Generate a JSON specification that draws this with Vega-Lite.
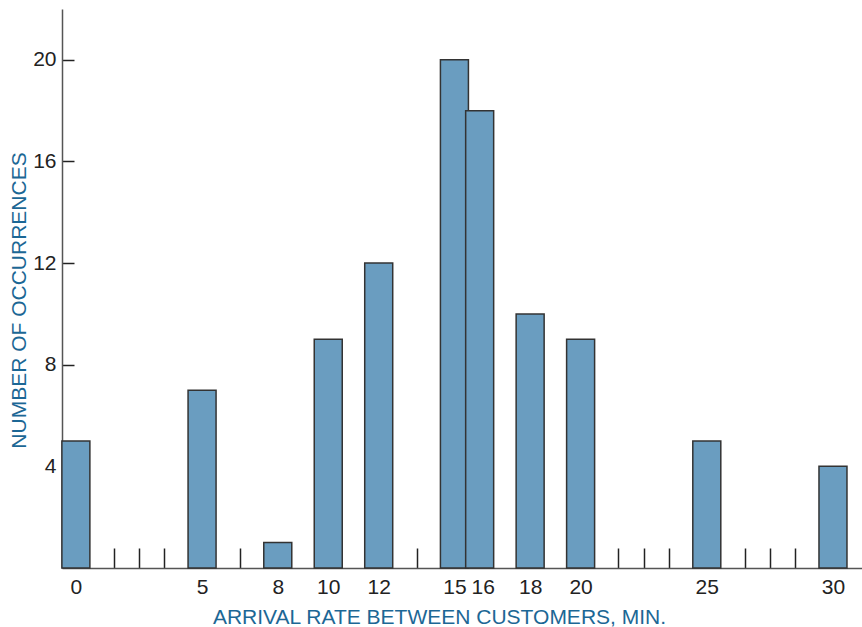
{
  "$schema": "https://vega.github.io/schema/vega-lite/v6.json",
  "width": 800,
  "height": 559,
  "autosize": "none",
  "padding": {"left": 62, "top": 9, "right": 0, "bottom": 59},
  "background": "white",
  "config": {"view": {"stroke": null}, "font": "Liberation Sans"},
  "data": {
    "values": [
      {"rate": 0, "count": 5},
      {"rate": 5, "count": 7},
      {"rate": 8, "count": 1},
      {"rate": 10, "count": 9},
      {"rate": 12, "count": 12},
      {"rate": 15, "count": 20},
      {"rate": 16, "count": 18},
      {"rate": 18, "count": 10},
      {"rate": 20, "count": 9},
      {"rate": 25, "count": 5},
      {"rate": 30, "count": 4}
    ]
  },
  "mark": {"type": "bar", "width": 28, "fill": "#6a9dc0", "fillOpacity": 1, "stroke": "#333333", "strokeWidth": 1.5},
  "encoding": {
    "x": {
      "field": "rate",
      "type": "quantitative",
      "scale": {"domain": [-0.55, 31.15], "nice": false, "zero": false, "padding": 0},
      "axis": {
        "values": [0, 1.5, 2.5, 3.5, 5, 6.5, 8, 10, 12, 13.5, 15, 16, 18, 20, 21.5, 22.5, 23.5, 25, 26.5, 27.5, 28.5, 30],
        "labelExpr": "datum.value % 1 === 0 ? datum.label : ''",
        "labelOffset": {"condition": {"test": "datum.value === 16", "value": 3}, "value": 0},
        "tickSize": -20,
        "tickColor": "#222222",
        "tickWidth": 1.5,
        "tickOpacity": {"condition": {"test": "datum.value % 1 === 0", "value": 0}, "value": 1},
        "grid": false,
        "domainColor": "#555555",
        "domainWidth": 1.5,
        "labelFont": "Liberation Sans",
        "labelFontSize": 21,
        "labelColor": "#222222",
        "labelPadding": 28,
        "labelBaseline": "top",
        "labelFlush": false,
        "labelOverlap": false,
        "title": "ARRIVAL RATE BETWEEN CUSTOMERS, MIN.",
        "titleFont": "Liberation Sans",
        "titleFontSize": 21,
        "titleFontWeight": "normal",
        "titleColor": "#1c6795",
        "titleX": 377,
        "titleY": 55,
        "titleAlign": "center",
        "titleBaseline": "alphabetic"
      }
    },
    "y": {
      "field": "count",
      "type": "quantitative",
      "scale": {"domain": [0, 22], "nice": false, "padding": 0},
      "axis": {
        "values": [4, 8, 12, 16, 20],
        "tickSize": -12,
        "tickColor": "#222222",
        "tickWidth": 1.5,
        "grid": false,
        "domainColor": "#555555",
        "domainWidth": 1.5,
        "labelFont": "Liberation Sans",
        "labelFontSize": 21,
        "labelColor": "#222222",
        "labelPadding": 18,
        "title": "NUMBER OF OCCURRENCES",
        "titleFont": "Liberation Sans",
        "titleFontSize": 21,
        "titleFontWeight": "normal",
        "titleColor": "#1c6795",
        "titleAngle": 270,
        "titleX": -37,
        "titleY": 291,
        "titleAlign": "center",
        "titleBaseline": "alphabetic"
      }
    }
  }
}
